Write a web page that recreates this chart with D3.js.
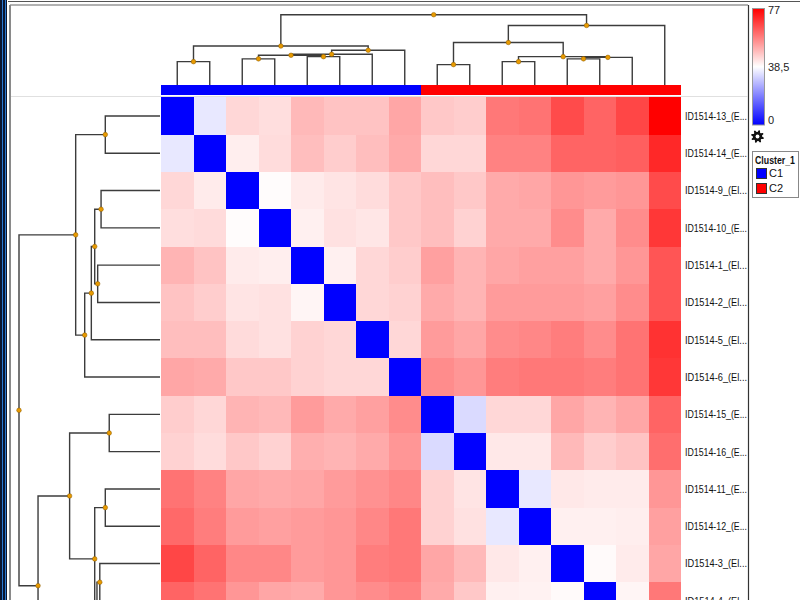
<!DOCTYPE html>
<html><head><meta charset="utf-8">
<script src="https://cdn.jsdelivr.net/npm/d3@7"></script>
<style>body{margin:0;background:#fff;overflow:hidden} svg{display:block;font-family:"Liberation Sans",Arial,sans-serif;}</style>
</head><body><svg id="c" width="800" height="600"></svg>
<script>
// ---------- data ----------
const labels = ["ID1514-13_(E...","ID1514-14_(E...","ID1514-9_(El...","ID1514-10_(E...",
  "ID1514-1_(El...","ID1514-2_(El...","ID1514-5_(El...","ID1514-6_(El...",
  "ID1514-15_(E...","ID1514-16_(E...","ID1514-11_(E...","ID1514-12_(E...",
  "ID1514-3_(El...","ID1514-4_(El...","ID1514-7_(El...","ID1514-8_(El..."];
const clusters = ["C1","C1","C1","C1","C1","C1","C1","C1","C2","C2","C2","C2","C2","C2","C2","C2"];
const values = [
 [0,35,44.5,43.5,49,47.6,47.6,52,46.8,46,58.9,59.6,65.7,61.9,66.4,77],
 [35,0,41,43.8,48.3,46,48.3,51.3,44.5,44.5,57.4,57.4,61.9,61.9,62.7,71],
 [44.5,41.5,0,39,41.5,42.6,43.8,46.8,48.3,46.8,51.3,52,54.4,53.6,54.4,65.7],
 [43.5,44,39,0,40.8,43,42.3,46.8,48.3,45.3,51.3,51.3,55.9,51.3,55.9,68.7],
 [49.8,47.6,41.5,41,0,40.8,44.5,46,52.8,49.8,52,52.8,52.8,51.3,54.4,64.2],
 [47.6,46,42.6,43,40,0,44.5,45.3,51.3,49.8,53.6,53.6,53.6,52.8,55.9,64.2],
 [48.3,48.3,44,43,45.3,44.5,0,44.5,53.6,52,55.9,56.6,58.1,55.9,59.6,69.5],
 [52,51.3,46.8,46.8,45.3,44.5,44.5,0,55.9,54.4,58.1,58.9,58.9,58.1,59.6,68.7],
 [46,44.5,49.8,49,53.6,51.3,52.8,55.9,0,32.9,44.5,44.5,52,49.8,52,61.9],
 [45.3,43.8,46.8,45.3,50.6,49.8,51.3,54.4,32.9,0,42,42,49,46,47.6,60.4],
 [59.6,57.4,52,51.3,52,53.6,55.1,56.6,45.3,42.6,0,35,42,41.5,41.5,54.4],
 [61.1,58.1,53.6,52.8,53.6,54.4,56.6,58.9,45.3,43,35,0,40.8,40.8,41,52.8],
 [66.4,61.9,56.6,56.6,53.6,54.4,58.1,58.9,52,49,42,40.8,0,39.3,41.5,52],
 [61.9,59.6,54.4,52,51.3,54.4,55.9,57.4,51.3,46.8,40.8,40.5,39.3,0,40,58.9],
 [66.4,62.7,54.4,55.9,54.4,55.9,59.6,59.6,52,47.6,41.5,41,41.5,40,0,55],
 [77,71,65.7,68.7,64.2,64.2,69.5,68.7,61.9,60.4,54.4,52.8,52,58.9,55,0]
];
// merges: [childA, childB, height]; numbers = leaf position, "mK" = merge K (1-based)
const rowMerges = [
 [0,1,38.8],[2,3,41.8],[4,5,44.2],["m2","m3",46.3],["m4",6,48.7],["m5",7,53.4],["m1","m6",59.8],
 [8,9,36.0],[10,11,38.8],[12,13,42.7],["m10",14,44.7],["m9","m11",46.3],["m8","m12",64.1],["m13",15,86.5],
 ["m7","m14",100]];
const colMerges = [
 [0,1,33.2],[2,3,37.2],[4,5,40.3],["m2","m3",42.3],["m4",6,43.7],["m5",7,49.4],["m1","m6",55.4],
 [8,9,29.0],[10,11,33.2],[12,13,37.2],["m10",14,39.3],["m9","m11",40.3],["m8","m12",60.5],["m13",15,84.7],
 ["m7","m14",100]];
const legendValues = [77, 38.5, 0];
const legendLabels = ["77","38,5","0"];
const clusterNames = ["C1","C2"];
const clusterTitle = "Cluster_1";

// ---------- scales ----------
const svg = d3.select("#c");
const idx = d3.range(values.length);
const x = d3.scaleBand().domain(idx).range([161, 681]);
const y = d3.scaleBand().domain(idx).range([97.3, 97.3 + 16 * 37.3]);
const color = d3.scaleLinear().domain([0, 38.5, 77]).range(["#0000ff", "#ffffff", "#ff0000"]).interpolate(d3.interpolateRgb);
const clusterColor = d3.scaleOrdinal().domain(clusterNames).range(["#0000ff", "#ff0000"]);
const rowH = d3.scaleLinear().domain([0, 100]).range([160, 19]);
const colH = d3.scaleLinear().domain([0, 100]).range([85, 14.7]);

// ---------- frame ----------
svg.append("rect").attr("x",0).attr("y",0).attr("width",7).attr("height",600).attr("fill","#0b1630");
svg.append("line").attr("x1",2.5).attr("x2",2.5).attr("y1",0).attr("y2",600).attr("stroke","#2a78d0").attr("stroke-width",1);
svg.append("line").attr("x1",5.5).attr("x2",5.5).attr("y1",0).attr("y2",600).attr("stroke","#2a78d0").attr("stroke-width",1);
svg.append("line").attr("x1",8).attr("x2",800).attr("y1",1.5).attr("y2",1.5).attr("stroke","#555").attr("stroke-width",1);
svg.append("line").attr("x1",10).attr("x2",748).attr("y1",5).attr("y2",5).attr("stroke","#999").attr("stroke-width",1.5);
svg.append("line").attr("x1",10).attr("x2",10).attr("y1",5).attr("y2",600).attr("stroke","#8a8a8a").attr("stroke-width",2);
svg.append("line").attr("x1",748.5).attr("x2",748.5).attr("y1",5).attr("y2",600).attr("stroke","#333").attr("stroke-width",1.2);
svg.append("line").attr("x1",11).attr("x2",748).attr("y1",96.5).attr("y2",96.5).attr("stroke","#e0e0e0").attr("stroke-width",1);

// ---------- heatmap ----------
const cells = [];
values.forEach((row, i) => row.forEach((v, j) => cells.push({i, j, v})));
svg.append("g").selectAll("rect").data(cells).join("rect")
  .attr("x", d => x(d.j)).attr("y", d => y(d.i))
  .attr("width", x.bandwidth() + 0.4).attr("height", y.bandwidth() + 0.4)
  .attr("fill", d => color(d.v)).attr("shape-rendering","crispEdges");

// cluster bar
svg.append("g").selectAll("rect").data(idx).join("rect")
  .attr("x", d => x(d)).attr("y", 84.5).attr("width", x.bandwidth() + 0.4).attr("height", 10.5)
  .attr("fill", d => clusterColor(clusters[d])).attr("shape-rendering","crispEdges");

// ---------- dendrograms ----------
function layout(merges, leafPos) {
  const nodes = [];
  const get = c => typeof c === "number" ? {p: leafPos(c), h: 0} : nodes[+c.slice(1) - 1];
  merges.forEach(([a, b, h]) => {
    const A = get(a), B = get(b);
    nodes.push({p: (A.p + B.p) / 2, h, A, B});
  });
  return nodes;
}
const rowNodes = layout(rowMerges, i => y(i) + y.bandwidth() / 2);
const colNodes = layout(colMerges, i => x(i) + x.bandwidth() / 2);

const dg = svg.append("g").attr("fill","none").attr("stroke","#3c3c3c").attr("stroke-width",1.4);
dg.selectAll("path.r").data(rowNodes).join("path").attr("class","r")
  .attr("d", n => `M${rowH(n.A.h)},${n.A.p}H${rowH(n.h)}V${n.B.p}H${rowH(n.B.h)}`);
dg.selectAll("path.c").data(colNodes).join("path").attr("class","c")
  .attr("d", n => `M${n.A.p},${colH(n.A.h)}V${colH(n.h)}H${n.B.p}V${colH(n.B.h)}`);

const dots = svg.append("g").attr("fill","#e89a00").attr("stroke","#8a5a00").attr("stroke-width",0.5);
dots.selectAll("circle.r").data(rowNodes).join("circle").attr("class","r")
  .attr("cx", n => rowH(n.h)).attr("cy", n => n.p).attr("r", 2.3);
dots.selectAll("circle.c").data(colNodes).join("circle").attr("class","c")
  .attr("cx", n => n.p).attr("cy", n => colH(n.h)).attr("r", 2.3);

// ---------- row labels (only those that reach the visible area) ----------
svg.append("g").selectAll("text").data(idx.filter(d => y(d) < 600)).join("text")
  .attr("x", 685).attr("y", d => y(d) + y.bandwidth() / 2).attr("dy", "0.35em")
  .attr("font-size", 11).attr("fill", "#111")
  .attr("textLength", 62).attr("lengthAdjust", "spacingAndGlyphs")
  .text(d => labels[d]);

// ---------- colour legend ----------
const defs = svg.append("defs");
const grad = defs.append("linearGradient").attr("id","lg").attr("x1",0).attr("y1",1).attr("x2",0).attr("y2",0);
[0, 0.5, 1].forEach(t => grad.append("stop").attr("offset", t).attr("stop-color", color(t * 77)));
const ly = d3.scaleLinear().domain([0, 77]).range([125, 8.5]);
svg.append("rect").attr("x", 752.5).attr("y", ly(77)).attr("width", 12).attr("height", ly(0) - ly(77))
  .attr("fill","url(#lg)").attr("stroke","#999").attr("stroke-width",1);
svg.append("g").selectAll("text").data(legendValues).join("text")
  .attr("x", 768).attr("y", d => ly(d)).attr("dy", (d, i) => i === 0 ? "0.5em" : i === 2 ? "-0.05em" : "0.35em")
  .attr("font-size", 11).attr("fill","#222")
  .text((d, i) => legendLabels[i]);

// gear icon
const gear = [];
const teeth = 8, ro = 6.5, ri = 4.6;
for (let k = 0; k < teeth * 4; k++) {
  const a = (k / (teeth * 4)) * 2 * Math.PI;
  const r = (k % 4 < 2) ? ro : ri;
  gear.push([757.5 + r * Math.cos(a + 0.2), 136.5 + r * Math.sin(a + 0.2)]);
}
svg.append("path").attr("d", d3.line()(gear) + "Z").attr("fill","#111");
svg.append("circle").attr("cx",757.5).attr("cy",136.5).attr("r",1.9).attr("fill","#fff");

// cluster legend
const lg = svg.append("g");
lg.append("rect").attr("x",752.5).attr("y",151.5).attr("width",46).attr("height",46).attr("fill","#fff").attr("stroke","#888");
lg.append("text").attr("x",755).attr("y",163.5).attr("font-size",10).attr("font-weight","bold").attr("fill","#111")
  .attr("textLength",40).attr("lengthAdjust","spacingAndGlyphs").text(clusterTitle);
lg.selectAll("rect.k").data(clusterNames).join("rect").attr("class","k")
  .attr("x",756.5).attr("y",(d,i)=>168.5 + i*15).attr("width",10).attr("height",10)
  .attr("fill", d => clusterColor(d)).attr("stroke","#333").attr("stroke-width",1);
lg.selectAll("text.k").data(clusterNames).join("text").attr("class","k")
  .attr("x",769).attr("y",(d,i)=>173.5 + i*15).attr("dy","0.35em").attr("font-size",11).attr("fill","#111").text(d=>d);
</script></body></html>
